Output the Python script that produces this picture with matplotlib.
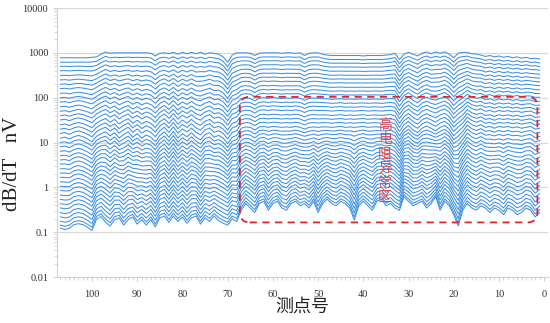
import numpy as np
import matplotlib
matplotlib.use("Agg")
import matplotlib.pyplot as plt
from matplotlib.patches import FancyBboxPatch
from matplotlib.ticker import LogLocator, NullFormatter, MultipleLocator, FixedLocator, FixedFormatter

# ---------------- data ----------------
stations = list(range(107, 0, -1))

# value of each channel at the first station (nV)
channel_levels = [780, 620, 500, 400, 315, 250, 200, 160, 125, 100,
                  80, 63, 50, 40, 32, 25, 20, 16, 12.6, 10,
                  8, 6.3, 5, 4, 3.2, 2.5, 2, 1.6, 1.26, 1.0,
                  0.8, 0.63, 0.5, 0.4, 0.32, 0.25, 0.2, 0.16, 0.13, 0.11]

# shape of the profile (log10 deviation from the first station) for
# early channel, middle channel and late channel
early_profile = [0.00, 0.00, 0.00, 0.00, 0.00, 0.00, 0.00, 0.01, 0.02, 0.08,
                 0.13, 0.10, 0.11, 0.11, 0.11, 0.11, 0.11, 0.11, 0.11, 0.11,
                 0.10, 0.04, 0.10, 0.11, 0.09, 0.12, 0.08, 0.12, 0.09, 0.12,
                 0.09, 0.12, 0.08, 0.11, 0.10, 0.08, 0.02, -0.10, 0.06, 0.11,
                 0.11, 0.11, 0.10, 0.05, 0.10, 0.11, 0.11, 0.11, 0.11, 0.10,
                 0.11, 0.11, 0.10, 0.11, 0.05, 0.10, 0.11, 0.11, 0.08, 0.06,
                 0.05, 0.05, 0.05, 0.05, 0.05, 0.05, 0.05, 0.04, 0.05, 0.05,
                 0.05, 0.05, 0.06, 0.07, 0.10, -0.04, 0.08, 0.12, 0.08, 0.04,
                 0.10, 0.13, 0.09, 0.13, 0.10, 0.13, 0.08, 0.00, 0.10, 0.12,
                 0.12, 0.09, 0.08, 0.06, 0.03, 0.05, 0.02, 0.04, 0.01, 0.03,
                 0.00, 0.02, -0.01, 0.01, -0.02, -0.01, -0.03]

mid_profile = [0.00, 0.02, -0.02, 0.03, 0.06, 0.03, -0.02, -0.08, 0.04, 0.10,
               0.14, 0.05, 0.12, 0.00, 0.08, 0.14, 0.02, 0.10, 0.00, 0.07,
               0.02, -0.08, 0.06, 0.14, 0.02, 0.15, 0.00, 0.10, 0.03, 0.12,
               0.02, -0.04, 0.08, 0.12, 0.02, 0.06, 0.00, -0.12, 0.02, 0.06,
               0.22, 0.25, 0.24, 0.18, 0.25, 0.26, 0.24, 0.26, 0.25, 0.24,
               0.25, 0.24, 0.26, 0.24, 0.20, 0.24, 0.25, 0.24, 0.25, 0.25,
               0.24, 0.25, 0.26, 0.24, 0.25, 0.24, 0.25, 0.26, 0.24, 0.25,
               0.25, 0.24, 0.25, 0.26, 0.22, 0.05, 0.20, 0.28, 0.18, 0.12,
               0.22, 0.27, 0.22, 0.16, 0.24, 0.28, 0.20, 0.05, 0.15, 0.24,
               0.38, 0.30, 0.26, 0.30, 0.24, 0.26, 0.22, 0.26, 0.24, 0.26,
               0.23, 0.25, 0.22, 0.24, 0.26, 0.20, 0.22]

late_profile = [0.05, 0.02, 0.05, 0.13, 0.15, 0.13, 0.07, 0.00, 0.25, 0.31,
                0.18, 0.10, 0.24, 0.28, 0.12, 0.24, 0.30, 0.14, 0.24, 0.12,
                0.24, 0.08, 0.28, 0.32, 0.18, 0.32, 0.20, 0.30, 0.16, 0.28,
                0.32, 0.14, 0.28, 0.20, 0.32, 0.22, 0.16, 0.12, 0.26, 0.20,
                0.45, 0.60, 0.50, 0.40, 0.60, 0.65, 0.45, 0.60, 0.65, 0.50,
                0.45, 0.60, 0.65, 0.55, 0.60, 0.50, 0.65, 0.40, 0.60, 0.70,
                0.60, 0.55, 0.65, 0.60, 0.50, 0.23, 0.55, 0.65, 0.55, 0.45,
                0.65, 0.70, 0.55, 0.60, 0.50, 0.45, 0.75, 0.65, 0.55, 0.60,
                0.65, 0.50, 0.60, 0.75, 0.45, 0.65, 0.55, 0.35, 0.10, 0.45,
                0.60, 0.50, 0.45, 0.55, 0.50, 0.40, 0.50, 0.45, 0.35, 0.50,
                0.45, 0.35, 0.40, 0.50, 0.45, 0.30, 0.40]

y_ticks = [0.01, 0.1, 1, 10, 100, 1000, 10000]
y_tick_labels = ["0.01", "0.1", "1", "10", "100", "1000", "10000"]
x_ticks = [100, 90, 80, 70, 60, 50, 40, 30, 20, 10, 0]

anomaly_box = dict(x0=67.3, x1=1.5, y0=0.166, y1=105)
anomaly_text = "高电阻异常区"
anomaly_text_pos = (35.2, 3.9)

# ---------------- figure ----------------
serif = ["Liberation Serif", "DejaVu Serif"]
cjk = ["Noto Sans CJK SC", "DejaVu Sans"]

fig = plt.figure(figsize=(5.5, 3.23), dpi=100)
ax = fig.add_axes([0.104, 0.142, 0.892, 0.833])

x = np.array(stations, dtype=float)
E = np.array(early_profile)
M = np.array(mid_profile)
L = np.array(late_profile)
n = len(channel_levels)
mid_idx = 18
for i, lev in enumerate(channel_levels):
    if i <= mid_idx:
        t = i / mid_idx
        dev = (1 - t) * E + t * M
    else:
        t = (i - mid_idx) / (n - 1 - mid_idx)
        dev = (1 - t) * M + t * L
    y = lev * 10 ** dev
    ax.plot(x, y, color="#3d90e4", lw=0.75, zorder=3, solid_joinstyle="round")

ax.set_yscale("log")
ax.set_ylim(0.01, 10000)
ax.set_xlim(107.7, -0.8)

ax.yaxis.set_major_locator(FixedLocator(y_ticks))
ax.yaxis.set_major_formatter(FixedFormatter(y_tick_labels))
ax.yaxis.set_minor_locator(LogLocator(base=10, subs=np.arange(2, 10), numticks=20))
ax.yaxis.set_minor_formatter(NullFormatter())
ax.xaxis.set_major_locator(FixedLocator(x_ticks))
ax.xaxis.set_minor_locator(MultipleLocator(1))

for s in ["top", "right"]:
    ax.spines[s].set_visible(False)
for s in ["left", "bottom"]:
    ax.spines[s].set_color("#d0d0d0")
    ax.spines[s].set_linewidth(0.8)

ax.grid(axis="y", which="major", color="#d9d9d9", lw=0.9, zorder=0)
ax.tick_params(axis="both", which="both", colors="#c8c8c8", labelcolor="#333333",
               direction="out")
ax.tick_params(axis="both", which="major", length=3, width=0.6, labelsize=7.5)
ax.tick_params(axis="both", which="minor", length=2, width=0.5)
ax.tick_params(axis="x", which="major", pad=6)
for lab in ax.get_xticklabels() + ax.get_yticklabels():
    lab.set_fontfamily(serif)

ax.set_ylabel("dB/dT   nV", family=serif, fontsize=15, color="#222222")
ax.yaxis.set_label_coords(-0.072, 0.42)
ax.set_xlabel("测点号", family=cjk, fontsize=13, color="#222222", labelpad=-1)

# anomaly box
fig.canvas.draw()
to_ax = ax.transData + ax.transAxes.inverted()
(ax0, ay0) = to_ax.transform((anomaly_box["x0"], anomaly_box["y0"]))
(ax1, ay1) = to_ax.transform((anomaly_box["x1"], anomaly_box["y1"]))
bbox = ax.get_window_extent()
aspect = bbox.width / bbox.height
box = FancyBboxPatch((ax0, ay0), ax1 - ax0, ay1 - ay0,
                     boxstyle="round,pad=0,rounding_size=0.02",
                     mutation_aspect=aspect,
                     transform=ax.transAxes, fill=False,
                     edgecolor="#e0262d", lw=1.3, linestyle=(0, (4, 3)), zorder=5)
ax.add_patch(box)

ax.text(anomaly_text_pos[0], anomaly_text_pos[1], "\n".join(anomaly_text),
        family=cjk, fontsize=10, color="#e8474a", ha="center", va="center",
        linespacing=1.05, zorder=6)

fig.savefig("out.png", dpi=100)
